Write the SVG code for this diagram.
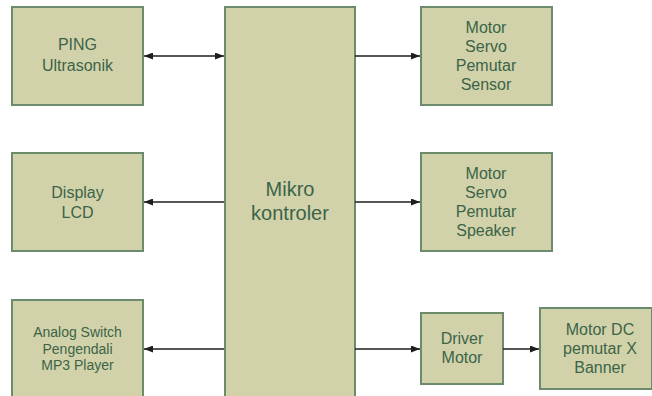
<svg xmlns="http://www.w3.org/2000/svg" width="652" height="396" viewBox="0 0 652 396">
<style>
.box{fill:#d2d2aa;stroke:#6c8b6c;stroke-width:2}
.t{font-family:"Liberation Sans",Arial,sans-serif;fill:#3b6448;text-anchor:middle;font-size:16px}
.s{font-size:14px}
.b{font-size:20px}
.c{stroke:#1e1e1e;stroke-width:1.5;fill:none}
</style>
<defs>
<marker id="ah" viewBox="0 0 10 10" refX="10" refY="5" markerWidth="9" markerHeight="7" markerUnits="userSpaceOnUse" orient="auto-start-reverse" preserveAspectRatio="none">
<path d="M0,0 L10,5 L0,10 Z" fill="#1e1e1e"/>
</marker>
</defs>
<g id="mikro">
<rect class="box" x="225" y="7" width="130" height="400"/>
<text class="t b" x="290" y="196">Mikro</text>
<text class="t b" x="290" y="220">kontroler</text>
</g>
<g id="ping">
<rect class="box" x="12" y="7" width="131" height="98"/>
<text class="t" x="77.5" y="50">PING</text>
<text class="t" x="77.5" y="71">Ultrasonik</text>
</g>
<g id="display">
<rect class="box" x="12" y="153" width="131" height="98"/>
<text class="t" x="77.5" y="198">Display</text>
<text class="t" x="77.5" y="217.5">LCD</text>
</g>
<g id="analog">
<rect class="box" x="12" y="300" width="131" height="110"/>
<text class="t s" x="77.5" y="337">Analog Switch</text>
<text class="t s" x="77.5" y="353.5">Pengendali</text>
<text class="t s" x="77.5" y="370">MP3 Player</text>
</g>
<g id="servo-sensor">
<rect class="box" x="421" y="7" width="131" height="98"/>
<text class="t" x="486" y="32.5">Motor</text>
<text class="t" x="486" y="51.5">Servo</text>
<text class="t" x="486" y="70.5">Pemutar</text>
<text class="t" x="486" y="89.5">Sensor</text>
</g>
<g id="servo-speaker">
<rect class="box" x="421" y="153" width="131" height="98"/>
<text class="t" x="486" y="178.5">Motor</text>
<text class="t" x="486" y="197.5">Servo</text>
<text class="t" x="486" y="216.5">Pemutar</text>
<text class="t" x="486" y="235.5">Speaker</text>
</g>
<g id="driver">
<rect class="box" x="421" y="313" width="82" height="71"/>
<text class="t" x="462" y="344">Driver</text>
<text class="t" x="462" y="363">Motor</text>
</g>
<g id="motor-dc">
<rect class="box" x="540" y="308" width="112" height="81"/>
<text class="t" x="600" y="335">Motor DC</text>
<text class="t" x="600" y="354">pemutar X</text>
<text class="t" x="600" y="373">Banner</text>
</g>
<g id="connectors">
<path class="c" d="M144,56 H224" marker-start="url(#ah)" marker-end="url(#ah)"/>
<path class="c" d="M355,56 H420" marker-end="url(#ah)"/>
<path class="c" d="M224,202 H144" marker-end="url(#ah)"/>
<path class="c" d="M355,202 H420" marker-end="url(#ah)"/>
<path class="c" d="M224,349 H144" marker-end="url(#ah)"/>
<path class="c" d="M355,349 H420" marker-end="url(#ah)"/>
<path class="c" d="M503,349 H539" marker-end="url(#ah)"/>
</g>
</svg>
